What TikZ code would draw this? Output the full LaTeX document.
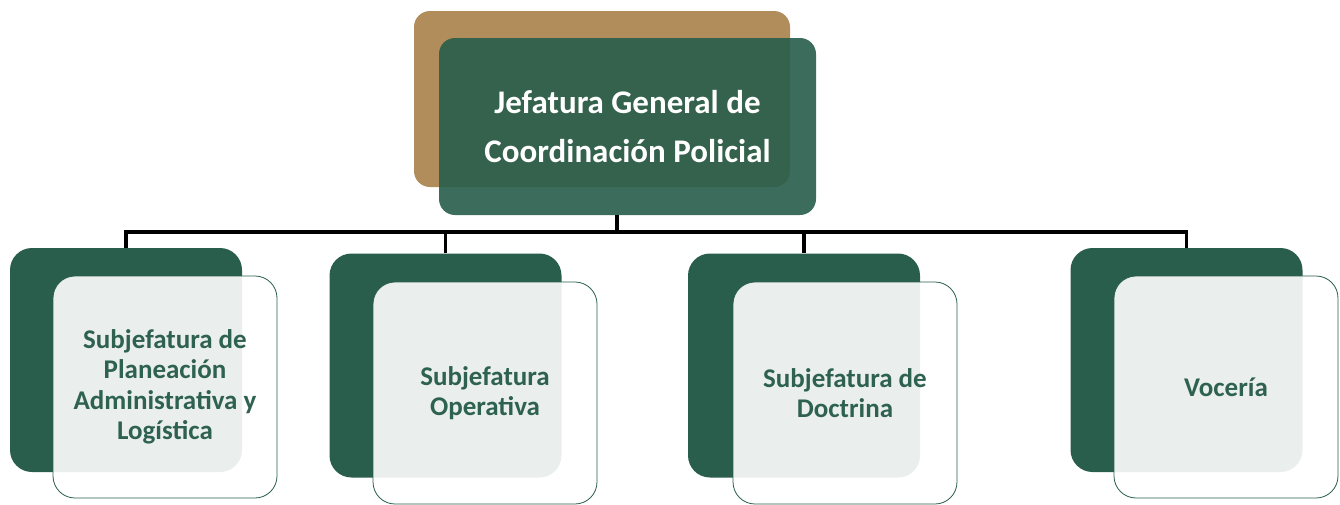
\documentclass[tikz,border=0pt]{standalone}
\usepackage{fontspec}
\setmainfont{Carlito}
\definecolor{ogtan}{RGB}{176,141,90}
\definecolor{ogdark}{RGB}{41,94,76}
\definecolor{ogtext}{RGB}{46,97,80}
\usetikzlibrary{positioning}

\begin{document}
\begin{tikzpicture}[x=1pt, y=-1pt,
    tanbox/.style={rectangle, fill=ogtan, rounded corners=16pt,
                   minimum width=376pt, minimum height=176pt, inner sep=0pt},
    headbox/.style={rectangle, fill=ogdark, fill opacity=0.91, text opacity=1,
                    rounded corners=16pt, minimum width=377pt, minimum height=177pt,
                    inner sep=0pt, text=white, align=center,
                    font=\bfseries\fontsize{33}{49}\selectfont},
    backbox/.style={rectangle, fill=ogdark, rounded corners=22pt,
                    minimum width=232pt, minimum height=224pt, inner sep=0pt},
    cardbox/.style={rectangle, draw=ogdark, line width=0.8pt, fill=white,
                    fill opacity=0.9, text opacity=1, rounded corners=22pt,
                    minimum width=224pt, minimum height=222pt, inner sep=0pt,
                    text=ogtext, align=center,
                    font=\bfseries\fontsize{27}{30.5}\selectfont},
    link/.style={line width=3.5pt, black}
  ]
    \useasboundingbox (0,0) rectangle (1340,504);

    % --- Head ---
    \node[tanbox] (tan) at (602,99) {};
    \node[headbox] (head) at (627.5,126.5) {Jefatura General de\\Coordinación Policial};

    % --- Back boxes ---
    \node[backbox] (back1) at (126,360) {};
    \node[backbox] (back2) at (445.5,365.5) {};
    \node[backbox] (back3) at (804,365.5) {};
    \node[backbox] (back4) at (1186.5,360) {};

    % --- Connectors ---
    \coordinate (bus) at (617,232);
    \draw[link] (bus |- head.south) -- (bus);
    \draw[link] (back1.north) |- (bus) -| (back4.north);
    \draw[link] (back2.north) -- (back2.north |- bus);
    \draw[link] (back3.north) -- (back3.north |- bus);

    % --- Cards ---
    \node[cardbox] (card1) at (165,387) {Subjefatura de\\Planeación\\Administrativa y\\Logística};
    \node[cardbox] (card2) at (485,393) {Subjefatura\\Operativa};
    \node[cardbox] (card3) at (845,393) {Subjefatura de\\Doctrina};
    \node[cardbox] (card4) at (1226,387) {Vocería};
  \end{tikzpicture}
\end{document}
